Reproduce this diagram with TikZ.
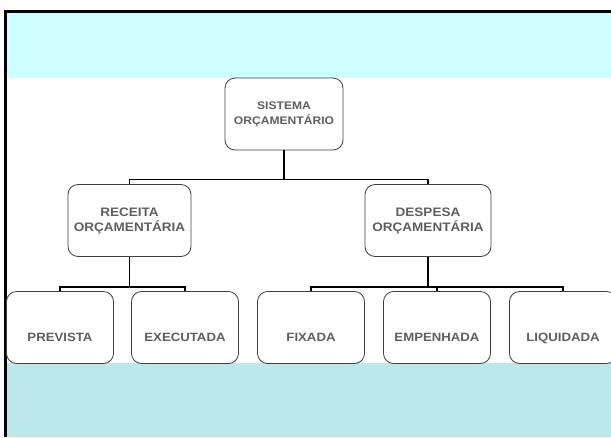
\documentclass[tikz,border=0pt]{standalone}
\usepackage{fontspec}
\setmainfont{Liberation Sans}[FakeStretch=1.1]
\definecolor{faixaTopo}{HTML}{CCFFFF}
\definecolor{faixaBase}{HTML}{BBE8E8}
\definecolor{texto}{HTML}{5F5F5F}
\tikzset{
  caixa/.style={draw=black!75, line width=0.8pt, fill=white, rounded corners=10pt,
    text=texto, font=\bfseries\fontsize{11}{15}\selectfont, align=center,
    minimum height=72pt, inner sep=0pt},
  ramo/.style={caixa, font=\bfseries\fontsize{12.3}{15}\selectfont},
  folha/.style={caixa, font=\bfseries\fontsize{12}{15}\selectfont,
    minimum width=107pt, text height=49pt, text depth=22pt},
  ligacao/.style={line width=1.5pt, black}
}
\begin{document}
\begin{tikzpicture}[x=1pt,y=-1pt]
    \useasboundingbox (0,0) rectangle (611,437);
    \clip (0,0) rectangle (611,437);

    % Fundo do slide
    \fill[faixaTopo] (7,13) rectangle (611,78);
    \fill[faixaBase] (7,363) rectangle (611,437);
    \draw[line width=3pt] (5.5,437) -- (5.5,11.5) -- (611,11.5);

    % Caixas
    \node[caixa, minimum width=118pt] (sistema) at (284,114) {SISTEMA\\ORÇAMENTÁRIO};
    \node[ramo, minimum width=123pt] (receita) at (129.5,220.5) {RECEITA\\ORÇAMENTÁRIA};
    \node[ramo, minimum width=126pt] (despesa) at (428,220.5) {DESPESA\\ORÇAMENTÁRIA};
    \node[folha] (prevista) at (60,327.5) {PREVISTA};
    \node[folha] (executada) at (185,327.5) {EXECUTADA};
    \node[folha] (fixada) at (311,327.5) {FIXADA};
    \node[folha] (empenhada) at (437,327.5) {EMPENHADA};
    \node[folha] (liquidada) at (563,327.5) {LIQUIDADA};

    % Ligacoes
    \draw[ligacao] (sistema.south) -- +(0,29) coordinate (nivel1);
    \draw[ligacao] (nivel1) -| (receita.north);
    \draw[ligacao] (nivel1) -| (despesa.north);
    \draw[ligacao] (receita.south) -- +(0,30) coordinate (nivel2);
    \draw[ligacao] (nivel2) -| (prevista.north);
    \draw[ligacao] (nivel2) -| (executada.north);
    \draw[ligacao] (despesa.south) -- +(0,30) coordinate (nivel3);
    \draw[ligacao] (nivel3) -| (fixada.north);
    \draw[ligacao] (nivel3) -| (empenhada.north);
    \draw[ligacao] (nivel3) -| (liquidada.north);
\end{tikzpicture}
\end{document}
